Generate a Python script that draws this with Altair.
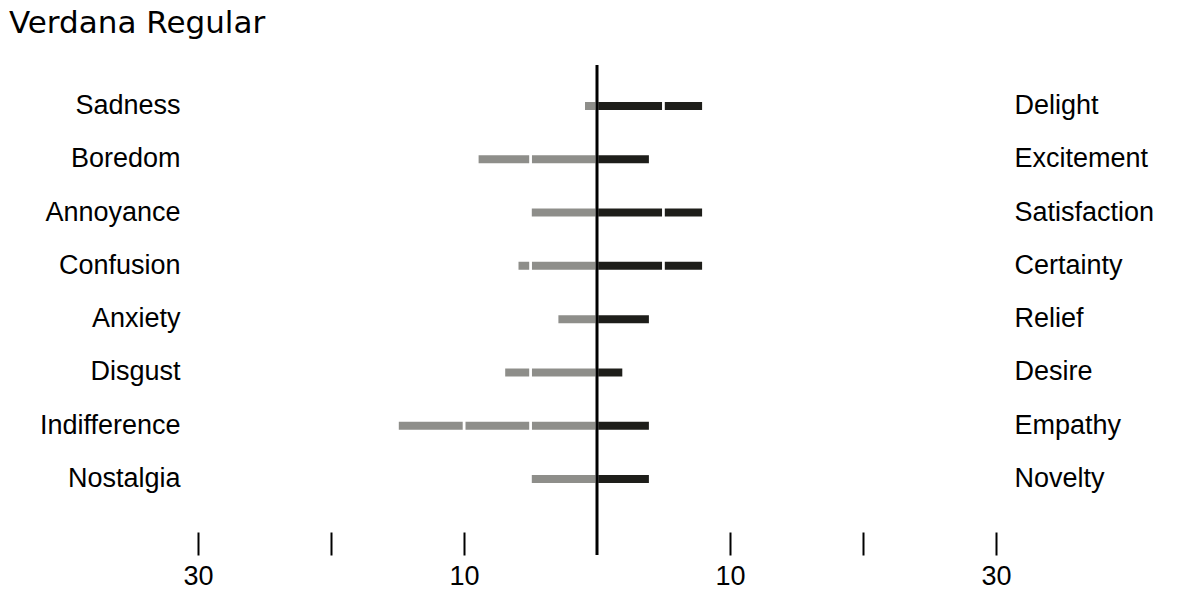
import altair as alt
import pandas as pd

# Data
neg_labels = ["Sadness", "Boredom", "Annoyance", "Confusion", "Anxiety", "Disgust", "Indifference", "Nostalgia"]
pos_labels = ["Delight", "Excitement", "Satisfaction", "Certainty", "Relief", "Desire", "Empathy", "Novelty"]
neg_values = [1, 9, 5, 6, 3, 7, 15, 5]
pos_values = [8, 4, 8, 8, 4, 2, 4, 4]
tick_values = [-30, -20, -10, 10, 20, 30]
chunk_size = 5  # bars are drawn in blocks of 5 units

GREY = "#8e8e8a"
DARK = "#1e1e1a"
LABEL_FONT = "Liberation Sans"


def split(labels, other, values, sign):
    rows = []
    for lab, oth, val in zip(labels, other, values):
        remaining = val
        k = 0
        while remaining > 0:
            c = min(chunk_size, remaining)
            rows.append({"label": lab, "other": oth, "seg": k, "v": sign * c})
            remaining -= c
            k += 1
    return pd.DataFrame(rows)


neg_df = split(neg_labels, pos_labels, neg_values, -1)
pos_df = split(pos_labels, neg_labels, pos_values, 1)

x_scale = alt.Scale(domain=[-30, 30], nice=False, zero=False)
x_axis = alt.Axis(
    values=tick_values,
    labelExpr="abs(datum.value) == 20 ? '' : format(abs(datum.value), 'd')",
    labelFlush=False,
    labelOverlap=False,
    domain=False,
    grid=False,
    ticks=True,
    tickSize=23,
    tickWidth=2,
    tickColor="black",
    offset=12,
    labelPadding=8,
    labelFont=LABEL_FONT,
    labelFontSize=27,
    labelColor="black",
    title=None,
)

y_scale = alt.Scale(paddingInner=0, paddingOuter=0.268)


def y_axis(orient):
    return alt.Axis(
        orient=orient,
        domain=False,
        ticks=False,
        grid=False,
        labelPadding=18,
        labelFont=LABEL_FONT,
        labelFontSize=27,
        labelColor="black",
        labelLimit=400,
        title=None,
    )


bar_mark = dict(size=10.6, stroke="white", strokeWidth=2.6)

neg_bars = alt.Chart(neg_df).mark_bar(color=GREY, **bar_mark).encode(
    x=alt.X("v:Q", scale=x_scale, axis=x_axis, stack="zero"),
    y=alt.Y("label:N", sort=neg_labels, scale=y_scale, axis=y_axis("left")),
    order=alt.Order("seg:Q"),
)

pos_bars = alt.Chart(pos_df).mark_bar(color=DARK, **bar_mark).encode(
    x=alt.X("v:Q", scale=x_scale, axis=x_axis, stack="zero"),
    y=alt.Y("label:N", sort=pos_labels, scale=y_scale, axis=y_axis("right")),
    order=alt.Order("seg:Q"),
)

zero_line = alt.Chart(pd.DataFrame({"v": [0]})).mark_rule(color="black", strokeWidth=3).encode(
    x=alt.X("v:Q", scale=x_scale, axis=x_axis),
    y=alt.value(0),
    y2=alt.value(490),
)

chart = (
    alt.layer(neg_bars, pos_bars, zero_line)
    .resolve_scale(y="independent")
    .properties(
        width=798,
        height=455,
        title=alt.TitleParams(
            "Verdana Regular",
            font="DejaVu Sans",
            fontSize=31,
            fontWeight="normal",
            color="black",
            anchor="start",
            frame="group",
            baseline="alphabetic",
            offset=0,
            dx=-189,
        ),
        autosize=alt.AutoSizeParams(type="none"),
        padding={"left": 190, "top": 57, "right": 196, "bottom": 73},
    )
    .configure_view(stroke=None)
)

chart.save("out.html", embed_options={"renderer": "svg", "actions": False})
